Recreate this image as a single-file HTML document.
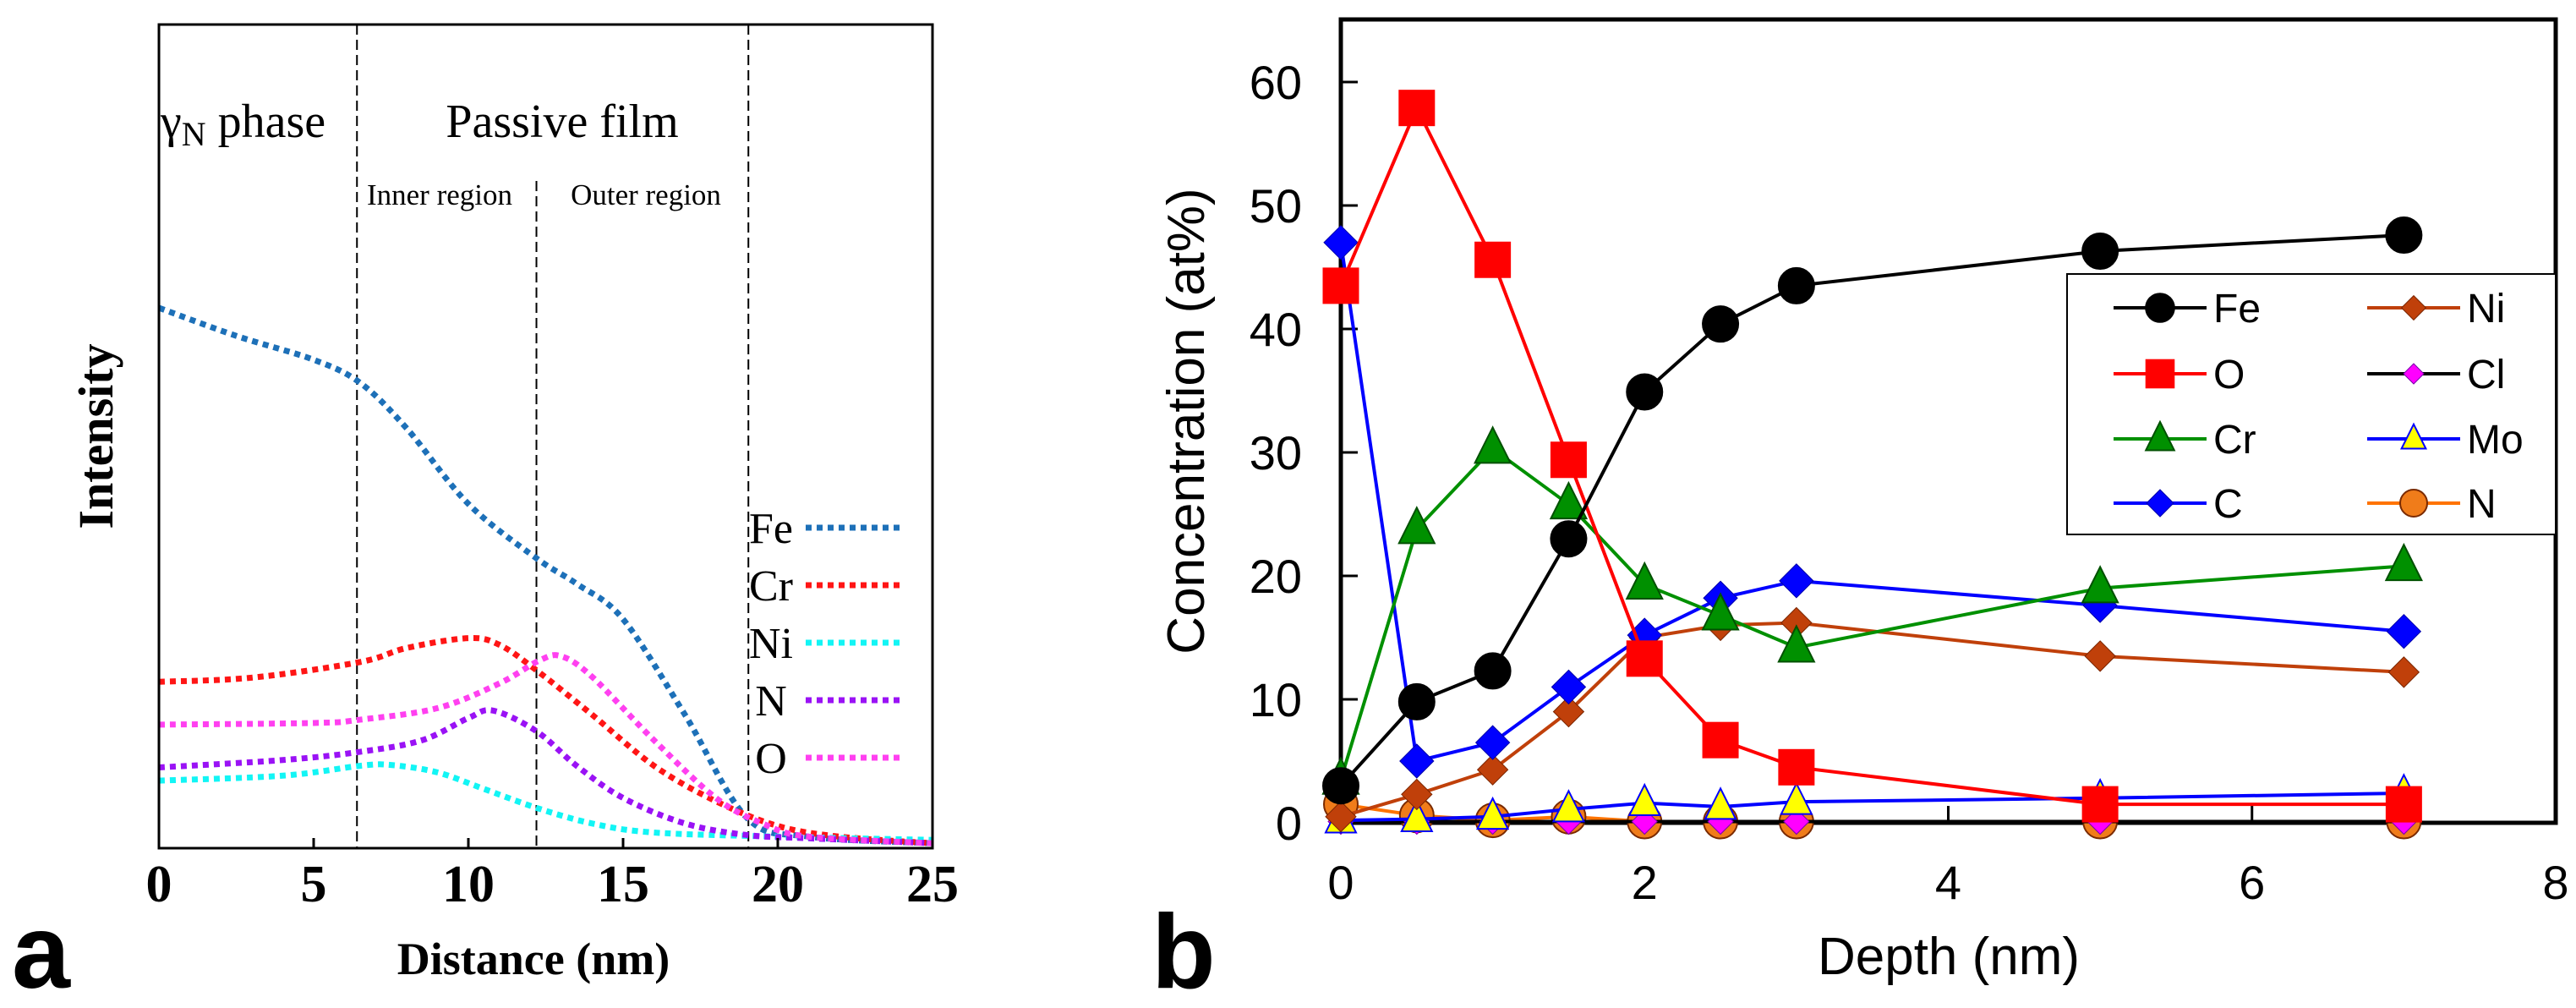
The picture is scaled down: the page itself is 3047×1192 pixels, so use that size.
<!DOCTYPE html>
<html><head><meta charset="utf-8">
<style>
html,body{margin:0;padding:0;background:#fff;}
svg{display:block;}
</style></head>
<body>
<svg id="chart" width="3047" height="1192" viewBox="0 0 3047 1192" xmlns="http://www.w3.org/2000/svg">
  <g id="panelA"></g>
  <g id="panelB"></g>
</svg>
<script>
// ---------- Panel A data ----------
const aXTicks = [0, 5, 10, 15, 20, 25];
const aDividers = [6.4, 12.2, 19.05];
const aSeriesNames = ["Fe", "Cr", "Ni", "N", "O"];
const aFeX = [0, 2.5, 5, 6.5, 8, 10, 12.2, 13.5, 15, 17, 19, 21, 25];
const aFeY = [0.656, 0.622, 0.593, 0.565, 0.51, 0.418, 0.352, 0.321, 0.278, 0.162, 0.037, 0.014, 0.006];
const aCrX = [0, 3, 6.5, 8, 10, 11, 12.2, 14, 16, 18, 20, 22, 25];
const aCrY = [0.202, 0.207, 0.226, 0.243, 0.255, 0.247, 0.216, 0.162, 0.1, 0.057, 0.027, 0.014, 0.006];
const aNiX = [0, 4, 6.5, 7.5, 9, 10.5, 12.2, 14, 16, 20, 25];
const aNiY = [0.082, 0.088, 0.1, 0.101, 0.092, 0.072, 0.049, 0.03, 0.019, 0.014, 0.01];
const aNX = [0, 4, 6.5, 8.5, 10, 10.8, 12.2, 13.5, 15, 17, 19, 21, 25];
const aNY = [0.098, 0.107, 0.117, 0.131, 0.158, 0.167, 0.142, 0.1, 0.061, 0.03, 0.016, 0.012, 0.006];
const aOX = [0, 5, 6.5, 9, 11, 12.3, 13, 14, 16, 18, 19.5, 21, 25];
const aOY = [0.15, 0.152, 0.156, 0.17, 0.2, 0.228, 0.233, 0.208, 0.131, 0.061, 0.03, 0.014, 0.006];

// ---------- Panel B data ----------
const bDepth = [0, 0.5, 1, 1.5, 2, 2.5, 3, 5, 7];
const bFe = [3, 9.8, 12.3, 23, 34.9, 40.4, 43.5, 46.3, 47.6];
const bO  = [43.5, 57.9, 45.6, 29.4, 13.3, 6.7, 4.5, 1.5, 1.5];
const bCr = [3.5, 23.8, 30.3, 25.8, 19.3, 16.8, 14.2, 19, 20.8];
const bC  = [47, 5, 6.5, 11, 15.2, 18.2, 19.6, 17.6, 15.5];
const bNi = [0.5, 2.3, 4.3, 9, 15, 16, 16.2, 13.5, 12.2];
const bCl = [0.1, 0.1, 0.1, 0.1, 0.1, 0.1, 0.1, 0.1, 0.1];
const bMo = [0.2, 0.3, 0.5, 1.1, 1.6, 1.3, 1.7, 2.0, 2.4];
const bN  = [1.5, 0.6, 0.2, 0.5, 0.1, 0.1, 0.1, 0.1, 0.1];
const bXTicks = [0, 2, 4, 6, 8];
const bYTicks = [0, 10, 20, 30, 40, 50, 60];

const NS = "http://www.w3.org/2000/svg";
function mk(tag, attrs, parent) {
  const e = document.createElementNS(NS, tag);
  for (const k in attrs) e.setAttribute(k, attrs[k]);
  if (parent) parent.appendChild(e);
  return e;
}

// ===== Panel A =====
const A = document.getElementById('panelA');
const aL = 188, aR = 1103, aT = 29, aB = 1003;
const ax = v => aL + (v / 25) * (aR - aL);
const ay = v => aB - v * (aB - aT);

function smoothPath(xs, ys) {
  const p = xs.map((x, i) => [ax(x), ay(ys[i])]);
  let d = `M${p[0][0]},${p[0][1]}`;
  for (let i = 0; i < p.length - 1; i++) {
    const p0 = p[i - 1] || p[i], p1 = p[i], p2 = p[i + 1], p3 = p[i + 2] || p2;
    const c1 = [p1[0] + (p2[0] - p0[0]) / 6, p1[1] + (p2[1] - p0[1]) / 6];
    const c2 = [p2[0] - (p3[0] - p1[0]) / 6, p2[1] - (p3[1] - p1[1]) / 6];
    d += ` C${c1[0]},${c1[1]} ${c2[0]},${c2[1]} ${p2[0]},${p2[1]}`;
  }
  return d;
}

aDividers.forEach((d, i) => {
  const l = mk('line', {x1: ax(d), x2: ax(d), y1: i === 1 ? ay(0.81) : aT, y2: aB, stroke: '#000', 'stroke-width': 2, 'stroke-dasharray': '12 6'}, A);
  
  
});

const aColors = {Fe: '#1d70b8', Cr: '#ff1515', Ni: '#12f5f5', N: '#9a12f5', O: '#ff40f0'};
const aData = {Fe: [aFeX, aFeY], Cr: [aCrX, aCrY], Ni: [aNiX, aNiY], N: [aNX, aNY], O: [aOX, aOY]};
aSeriesNames.forEach(n => {
  const p = mk('path', {d: smoothPath(aData[n][0], aData[n][1]), fill: 'none', stroke: aColors[n], 'stroke-width': 7, 'stroke-dasharray': '7 6'}, A);
  
  
});

const aBox = mk('rect', {x: aL, y: aT, width: aR - aL, height: aB - aT, fill: 'none', stroke: '#000', 'stroke-width': 3}, A);



aXTicks.forEach(t => {
  if (t > 0 && t < 25) mk('line', {x1: ax(t), x2: ax(t), y1: aB, y2: aB - 12, stroke: '#000', 'stroke-width': 3}, A);
  const tx = mk('text', {x: ax(t), y: 1066, 'text-anchor': 'middle', 'font-family': 'Liberation Serif, serif', 'font-weight': 'bold', 'font-size': 62}, A);
  tx.textContent = t;
  
  
});

function txt(parent, s, attrs, name) {
  const t = mk('text', attrs, parent);
  t.textContent = s;
  
  
  return t;
}
txt(A, 'Distance (nm)', {x: 631, y: 1152, 'text-anchor': 'middle', 'font-family': 'Liberation Serif, serif', 'font-weight': 'bold', 'font-size': 54}, 'x-axis-title');
txt(A, 'Intensity', {x: 0, y: 0, transform: 'translate(133,516) rotate(-90)', 'text-anchor': 'middle', 'font-family': 'Liberation Serif, serif', 'font-weight': 'bold', 'font-size': 58}, 'y-axis-title');
const g = txt(A, '', {x: 190, y: 162, 'font-family': 'Liberation Serif, serif', 'font-size': 56}, 'gamma-n-phase-label');
g.innerHTML = 'γ<tspan font-size="40" dy="10">N</tspan><tspan dy="-10"> phase</tspan>';
txt(A, 'Passive film', {x: 665, y: 162, 'text-anchor': 'middle', 'font-family': 'Liberation Serif, serif', 'font-size': 56}, 'passive-film-label');
txt(A, 'Inner region', {x: 520, y: 242, 'text-anchor': 'middle', 'font-family': 'Liberation Serif, serif', 'font-size': 35}, 'inner-region-label');
txt(A, 'Outer region', {x: 764, y: 242, 'text-anchor': 'middle', 'font-family': 'Liberation Serif, serif', 'font-size': 35}, 'outer-region-label');

const aLegY = [624, 692, 760, 828, 896];
aSeriesNames.forEach((n, i) => {
  const lg = mk('g', {}, A);
  
  
  const t = mk('text', {x: 912, y: aLegY[i] + 18, 'text-anchor': 'middle', 'font-family': 'Liberation Serif, serif', 'font-size': 52}, lg);
  t.textContent = n;
  mk('line', {x1: 953, x2: 1068, y1: aLegY[i], y2: aLegY[i], stroke: aColors[n], 'stroke-width': 7, 'stroke-dasharray': '7 6'}, lg);
});
txt(A, 'a', {x: 14, y: 1168, 'font-family': 'Liberation Sans, sans-serif', 'font-weight': 'bold', 'font-size': 124}, 'panel-label-a');

// ===== Panel B =====
const B = document.getElementById('panelB');
const bL = 1586, bR = 3023, bT = 23, bB = 973;
const bx = v => bL + (v / 8) * (bR - bL);
const by = v => bB - (v / 10) * 146;

const bBox = mk('rect', {x: bL, y: bT, width: bR - bL, height: bB - bT, fill: 'none', stroke: '#000', 'stroke-width': 5}, B);


bXTicks.forEach(t => {
  if (t > 0 && t < 8) mk('line', {x1: bx(t), x2: bx(t), y1: bB, y2: bB - 20, stroke: '#000', 'stroke-width': 3}, B);
  txt(B, String(t), {x: bx(t), y: 1063, 'text-anchor': 'middle', 'font-family': 'Liberation Sans, sans-serif', 'font-size': 56}, 'x-tick-label');
});
bYTicks.forEach(t => {
  if (t > 0) mk('line', {x1: bL, x2: bL + 20, y1: by(t), y2: by(t), stroke: '#000', 'stroke-width': 3}, B);
  txt(B, String(t), {x: 1540, y: by(t) + 20, 'text-anchor': 'end', 'font-family': 'Liberation Sans, sans-serif', 'font-size': 56}, 'y-tick-label');
});
txt(B, 'Depth (nm)', {x: 2305, y: 1152, 'text-anchor': 'middle', 'font-family': 'Liberation Sans, sans-serif', 'font-size': 62}, 'x-axis-title');
txt(B, 'Concentration (at%)', {x: 0, y: 0, transform: 'translate(1424,498) rotate(-90)', 'text-anchor': 'middle', 'font-family': 'Liberation Sans, sans-serif', 'font-size': 62}, 'y-axis-title');
txt(B, 'b', {x: 1362, y: 1168, 'font-family': 'Liberation Sans, sans-serif', 'font-weight': 'bold', 'font-size': 124}, 'panel-label-b');

function marker(parent, type, cx, cy, s, fill, stroke) {
  let e;
  if (type === 'circle') e = mk('circle', {cx, cy, r: s / 2, fill, stroke, 'stroke-width': 2}, parent);
  else if (type === 'square') e = mk('rect', {x: cx - s / 2, y: cy - s / 2, width: s, height: s, fill, stroke, 'stroke-width': 1}, parent);
  else if (type === 'triangle') e = mk('polygon', {points: `${cx},${cy - s * 0.6} ${cx - s / 2},${cy + s * 0.4} ${cx + s / 2},${cy + s * 0.4}`, fill, stroke, 'stroke-width': 2}, parent);
  else e = mk('polygon', {points: `${cx},${cy - s / 2} ${cx + s / 2},${cy} ${cx},${cy + s / 2} ${cx - s / 2},${cy}`, fill, stroke, 'stroke-width': 1}, parent);
  return e;
}

const bSeries = [
  {n: 'N', v: bN, line: '#ff7300', m: 'circle', fill: '#f07c1a', stroke: '#7a2a00', s: 40},
  {n: 'Cl', v: bCl, line: '#000', m: 'diamond', fill: '#ff00ff', stroke: '#7700aa', s: 30},
  {n: 'Mo', v: bMo, line: '#0000ff', m: 'triangle', fill: '#ffff00', stroke: '#0000ff', s: 36},
  {n: 'Ni', v: bNi, line: '#c0400a', m: 'diamond', fill: '#c0400a', stroke: '#7a2500', s: 36},
  {n: 'C', v: bC, line: '#0000ff', m: 'diamond', fill: '#0000ff', stroke: '#0000aa', s: 40},
  {n: 'Cr', v: bCr, line: '#009000', m: 'triangle', fill: '#009000', stroke: '#005000', s: 42},
  {n: 'O', v: bO, line: '#ff0000', m: 'square', fill: '#ff0000', stroke: '#ff0000', s: 42},
  {n: 'Fe', v: bFe, line: '#000', m: 'circle', fill: '#000', stroke: '#000', s: 42}
];
bSeries.forEach(sr => {
  const grp = mk('g', {}, B);
  
  
  const pts = bDepth.map((d, i) => `${bx(d)},${by(sr.v[i])}`).join(' ');
  mk('polyline', {points: pts, fill: 'none', stroke: sr.line, 'stroke-width': 4}, grp);
  bDepth.forEach((d, i) => {
    const mm = marker(grp, sr.m, bx(d), by(sr.v[i]), sr.s, sr.fill, sr.stroke);
    
    
  });
});

const leg = mk('g', {}, B);


mk('rect', {x: 2445, y: 324, width: 578, height: 308, fill: '#fff', stroke: '#000', 'stroke-width': 2}, leg);
const legOrder = ['Fe', 'O', 'Cr', 'C', 'Ni', 'Cl', 'Mo', 'N'];
const legRows = [364, 442, 519, 595];
legOrder.forEach((n, i) => {
  const sr = bSeries.find(s => s.n === n);
  const col = i < 4 ? 0 : 1, row = i % 4;
  const x0 = col === 0 ? 2500 : 2800, y0 = legRows[row];
  const e = mk('g', {}, leg);
  
  
  mk('line', {x1: x0, x2: x0 + 110, y1: y0, y2: y0, stroke: sr.line, 'stroke-width': 4}, e);
  marker(e, sr.m, x0 + 55, y0, sr.s * 0.8, sr.fill, sr.stroke);
  const t = mk('text', {x: x0 + 118, y: y0 + 17, 'font-family': 'Liberation Sans, sans-serif', 'font-size': 48}, e);
  t.textContent = n;
});
</script>
</body></html>
